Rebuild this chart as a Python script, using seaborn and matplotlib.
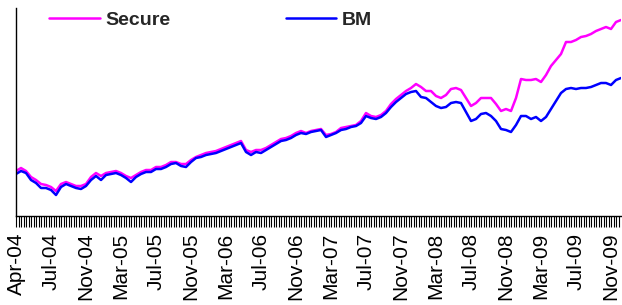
import numpy as np
import pandas as pd
import matplotlib
matplotlib.use("Agg")
import matplotlib.pyplot as plt
import seaborn as sns

# index levels, one reading roughly every two weeks
secure = [45, 48, 45, 39, 36, 32, 31, 29, 25, 32, 34, 32, 30, 30, 32, 39, 43, 40, 43, 44,
          45, 43, 40, 38, 41, 44, 46, 46, 49, 49, 51, 54, 54, 52, 52, 56, 59, 61, 63, 64,
          65, 67, 69, 71, 73, 75, 66, 64, 66, 66, 68, 71, 74, 77, 78, 80, 83, 85, 83, 85,
          86, 87, 81, 82, 84, 88, 89, 90, 91, 95, 103, 100, 99, 101, 105, 112, 117, 121, 125, 128,
          132, 129, 125, 125, 120, 118, 121, 127, 128, 126, 118, 110, 113, 118, 118, 118, 112, 105, 107, 105,
          118, 137, 136, 136, 137, 134, 141, 150, 156, 162, 174, 174, 176, 179, 180, 182, 185, 187, 189, 187,
          194, 196]
bm = [42, 45, 43, 36, 33, 28, 28, 26, 21, 29, 32, 30, 28, 27, 30, 36, 40, 36, 41, 42,
      43, 41, 38, 34, 39, 42, 44, 44, 47, 47, 49, 52, 53, 50, 49, 54, 58, 59, 61, 62,
      63, 65, 67, 69, 71, 73, 64, 61, 64, 63, 66, 69, 72, 75, 76, 78, 81, 83, 82, 84,
      85, 86, 79, 81, 83, 86, 87, 89, 90, 93, 100, 98, 97, 99, 103, 109, 114, 118, 122, 124,
      125, 119, 118, 114, 110, 108, 109, 113, 114, 113, 104, 95, 97, 102, 103, 100, 95, 87, 86, 84,
      91, 100, 100, 97, 99, 95, 99, 107, 115, 123, 127, 128, 127, 128, 128, 129, 131, 133, 133, 131,
      136, 138]
tick_labels = ["Apr-04", "Jul-04", "Nov-04", "Mar-05", "Jul-05", "Nov-05", "Mar-06", "Jul-06",
               "Nov-06", "Mar-07", "Jul-07", "Nov-07", "Mar-08", "Jul-08", "Nov-08", "Mar-09",
               "Jul-09", "Nov-09"]

n = len(secure)
df = pd.DataFrame({
    "t": list(range(n)) * 2,
    "value": secure + bm,
    "series": ["Secure"] * n + ["BM"] * n,
})

sns.set_style("white")
plt.rcParams["font.family"] = ["Liberation Sans", "DejaVu Sans"]
plt.rcParams["xtick.bottom"] = True
plt.rcParams["xtick.minor.bottom"] = True
plt.rcParams["xtick.color"] = "black"
plt.rcParams["xtick.major.size"] = 8
plt.rcParams["xtick.minor.size"] = 8
plt.rcParams["xtick.major.width"] = 0.8
plt.rcParams["xtick.minor.width"] = 0.8

fig = plt.figure(figsize=(6.22, 3.05), dpi=100)
ax = fig.add_axes([16 / 622, 89 / 305, 605 / 622, 208 / 305])

sns.lineplot(data=df, x="t", y="value", hue="series",
             palette={"Secure": "#FF00FF", "BM": "#0000FF"},
             linewidth=1.8, ax=ax)

ax.set_xlim(0, n - 1)
ax.set_ylim(0, 208)
ax.set_xlabel("")
ax.set_ylabel("")
ax.set_yticks([])

ax.set_xticks(np.arange(len(tick_labels)) * 7)
ax.set_xticklabels(tick_labels, rotation=90, fontsize=15, color="black")
ax.set_xticks(np.arange(0, n - 1, 0.5), minor=True)
ax.tick_params(axis="x", which="both", bottom=True, direction="out",
               length=8, width=0.8, color="black", pad=4)

for side in ["top", "right"]:
    ax.spines[side].set_visible(False)
for side in ["left", "bottom"]:
    ax.spines[side].set_color("black")
    ax.spines[side].set_linewidth(1)

leg = ax.legend(loc="upper left", bbox_to_anchor=(0.055, 0.985), ncol=2,
                frameon=False, handlelength=2.6, handletextpad=0.3,
                columnspacing=5.9, borderpad=0, borderaxespad=0,
                prop={"weight": "bold", "size": 14})
for line in leg.get_lines():
    line.set_linewidth(1.8)

fig.savefig("out.png", dpi=100)
